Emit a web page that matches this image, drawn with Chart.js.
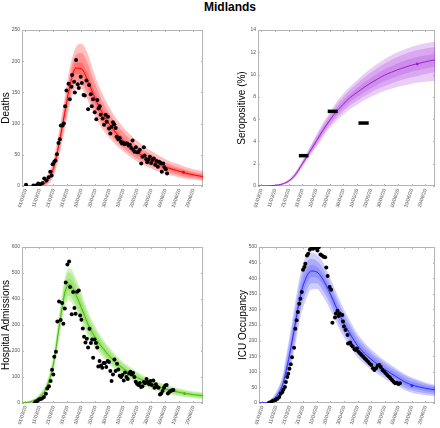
<!DOCTYPE html>
<html lang="en">
<head>
    <meta charset="UTF-8">
    <title>Midlands</title>
    <script src="https://cdn.jsdelivr.net/npm/chart.js"></script>
    <style>
        body { margin: 0; background: #fff; overflow: hidden; font-family: "Liberation Sans", Arial, sans-serif; }
        #title { position: absolute; left: 130px; width: 200px; top: 0px; text-align: center; font-weight: bold; font-size: 12px; line-height: 14px; }
        canvas { position: absolute; }
    </style>
</head>
<body>
    <div id="title">Midlands</div>
    <canvas id="deathsChart"></canvas>
    <canvas id="seroChart"></canvas>
    <canvas id="hospChart"></canvas>
    <canvas id="icuChart"></canvas>

    <script>
        // x axis: days since 01/03/20
        const tickDays = [0, 10, 20, 30, 40, 50, 60, 70, 80, 90, 100, 110, 120];
        const tickLabels = ["01/03/20", "11/03/20", "21/03/20", "31/03/20", "10/04/20", "20/04/20", "30/04/20",
                            "10/05/20", "20/05/20", "30/05/20", "09/06/20", "19/06/20", "29/06/20"];

        // ---- Deaths ----
        const deathDays = [0.4,5.6,7.2,9.1,10.6,12.2,13.4,15,16.5,17.7,18.7,19.4,20.6,21.5,22.5,23.6,24.6,25.3,26.5,27.4,
            28.4,29.3,30.8,31.7,32.9,33.4,34.8,35.3,36.2,37.4,38.1,39.5,40.3,41.5,42.4,43.6,44.8,45.5,46.7,47.4,
            48.3,49.5,50.7,51.4,52.2,53.1,53.8,55.2,56.2,57.4,58.1,59,59.8,60.7,61.6,62.6,63.5,64.5,65.2,66.4,
            67.4,68.3,69,70,70.9,71.9,72.8,73.8,74.7,75.7,76.6,77.1,78,79,79.9,80.9,81.8,82.8,83.7,84.7,
            85.2,86.4,87.1,88,89,89.9,90.9,91.8,92.8,93.7,94.7,95.6,96.6,97.5,98.5,99.4,100.4,101.3];
        const deaths = [2,1,1,4,3,5,12,9,14,23,17,35,39,41,51,69,75,97,97,100,
            128,153,164,139,159,178,167,150,202,163,157,175,165,146,145,169,123,162,147,128,
            139,118,107,138,124,128,114,108,98,114,103,111,92,84,95,102,99,93,79,75,
            77,71,68,69,67,68,68,65,66,61,73,58,55,62,54,55,58,36,47,62,
            49,43,38,42,47,37,42,44,34,40,31,39,37,23,36,30,27,20];
        const deathModelDays = [0,4,8,12,16,20,24,28,32,36,40,44,48,52,56,60,66,72,78,84,90,96,102,108,114,120,127];
        const deathMean = [0,0.2,0.8,2.5,9,28,68,116,163,189,188,172,150,130,113,99,82,68,57,48,41,34,29,25,21,18,15];
        const deathHi95 = [0.5,1,3,7,18,42,88,142,193,222,228,215,188,163,143,126,105,89,76,65,56,48,41,36,31,27,24];
        const deathHi80 = [0.3,0.7,2,5,14,36,79,131,181,210,213,199,174,151,131,116,96,81,68,58,50,42,36,31,27,23,20];
        const deathHi50 = [0.2,0.4,1.3,3.5,11,32,73,123,171,198,198,183,160,139,121,106,88,73,62,52,45,38,32,28,24,20,17];
        const deathLo50 = [0,0.1,0.5,1.8,7,24,62,108,154,179,178,161,140,121,105,92,76,63,52,44,37,30,26,22,18,16,13];
        const deathLo80 = [0,0,0.3,1,5,20,55,99,143,167,165,149,129,111,96,84,69,57,47,39,32,26,22,18,15,13,10.5];
        const deathLo95 = [0,0,0.1,0.5,3,15,47,89,132,156,156,140,120,102,88,77,63,52,42,34,28,22,18,15,12,10,8.5];
        const deathMark = [113, 22];

        // ---- Seropositive ----
        const seroModelDays = [-3,0,5,10,15,20,25,30,35,40,45,50,55,60,65,70,75,80,85,90,95,100,105,110,115,120,127];
        const seroMean = [0,0,0.01,0.06,0.17,0.45,1.05,2.0,3.0,4.0,5.0,5.9,6.7,7.35,7.95,8.4,8.85,9.25,9.6,9.95,10.2,10.45,10.65,10.85,11.0,11.15,11.32];
        const seroHi95 = [0,0,0.02,0.1,0.25,0.6,1.3,2.3,3.4,4.55,5.65,6.6,7.55,8.3,8.95,9.5,10.05,10.55,10.98,11.38,11.72,12.02,12.28,12.5,12.68,12.82,12.95];
        const seroHi80 = [0,0,0.015,0.09,0.22,0.55,1.22,2.2,3.3,4.4,5.45,6.4,7.3,8.02,8.65,9.2,9.72,10.18,10.6,10.98,11.3,11.6,11.85,12.05,12.22,12.35,12.45];
        const seroHi50 = [0,0,0.012,0.07,0.18,0.5,1.15,2.1,3.15,4.2,5.22,6.15,7.0,7.7,8.3,8.8,9.28,9.72,10.1,10.45,10.75,11.02,11.25,11.45,11.6,11.72,11.85];
        const seroLo50 = [0,0,0.008,0.04,0.12,0.4,0.95,1.88,2.85,3.8,4.76,5.62,6.38,7.0,7.55,7.98,8.4,8.78,9.1,9.4,9.65,9.88,10.08,10.25,10.4,10.55,10.72];
        const seroLo80 = [0,0,0.005,0.03,0.1,0.35,0.88,1.8,2.72,3.62,4.58,5.42,6.12,6.72,7.25,7.65,8.05,8.4,8.7,8.98,9.2,9.42,9.6,9.75,9.9,10.05,10.22];
        const seroLo95 = [0,0,0.003,0.02,0.08,0.3,0.8,1.7,2.6,3.45,4.38,5.2,5.85,6.42,6.92,7.3,7.68,8.0,8.28,8.52,8.72,8.9,9.05,9.18,9.28,9.35,9.42];
        const seroMark = [114, 10.95];
        // serosurvey results: start day, end day, % positive
        const surveyStart = [27.4, 48.5, 71];
        const surveyEnd = [34.4, 55.8, 78.5];
        const surveyValue = [2.72, 6.7, 5.65];

        // ---- Hospital admissions ----
        const hospDays = [6.5,7.4,8.4,9.6,10.7,11.8,13.2,14.6,15.6,16.8,18,19,19.9,20.6,21.8,22.8,24,25.2,26.2,27.1,
            28.1,28.8,30,31.2,31.9,33.1,34.1,35,35.8,36.9,38.1,39.1,40,41,41.9,42.9,43.9,44.8,45.8,46.8,
            47.7,48.4,49.4,50.4,51.3,52.1,53,54,54.9,55.9,56.8,57.8,58.8,59.7,60.7,61.6,62.6,63.6,64.5,65.5,
            66.4,67.4,68.4,69.3,70.3,71.2,72.2,73.2,74.1,75.1,76,77,77.9,78.9,79.8,80.8,81.8,82.7,83.7,84.7,
            85.6,86.6,87.5,88.5,89.5,90.4,91.4,92.3,93.3,94.3,95.2,96.2,97.1,98.1,99.1,100,101,101.9,102.9,103.9,
            104.8,105.8];
        const hosp = [0,5,8,13,15,17,23,36,56,64,85,128,110,178,197,313,390,319,385,305,
            363,463,533,544,446,341,427,365,343,428,433,337,320,287,255,233,247,213,286,231,
            244,174,244,231,213,140,162,144,136,154,154,138,162,158,123,85,110,167,123,151,
            129,105,100,108,87,117,100,92,113,120,110,115,100,82,74,69,77,62,64,81,
            76,92,81,72,85,69,87,59,72,62,59,33,37,46,59,67,69,37,42,46,
            49,50];
        const hospModelDays = [-3,0,5,10,15,20,24,28,31,34,37,40,45,50,55,60,65,70,75,80,85,90,95,100,105,110,115,120,127];
        const hospMean = [0,1,8,23,59,150,290,420,457,440,405,367,300,251,213,181,154,132,114,98,85,73,63,54,47,41,36,32,28];
        const hospHi95 = [0.5,3,14,35,80,185,340,480,520,505,468,425,350,294,250,214,183,158,138,120,105,92,81,71,63,56,50,45,41];
        const hospHi80 = [0.3,2,12,31,73,174,325,462,503,487,450,408,336,282,240,205,175,150,131,113,99,86,76,66,58,52,46,41,37];
        const hospHi50 = [0.2,1.5,10,27,66,162,307,440,480,464,428,388,318,266,226,193,164,141,122,105,92,80,69,60,53,47,41,37,33];
        const hospLo50 = [0,0.6,6,19,52,138,273,400,434,416,382,346,282,236,200,169,143,122,105,90,78,67,57,48,42,36,31,27,23];
        const hospLo80 = [0,0.4,5,16,46,127,258,380,413,395,362,328,267,223,188,158,133,113,97,82,70,60,50,42,36,31,26,22,19];
        const hospLo95 = [0,0.2,4,13,40,116,242,362,395,376,344,311,253,211,177,148,124,105,89,75,63,53,44,37,31,26,22,18,15];
        const hospMark = [113.9, 36];

        // ---- ICU occupancy ----
        const icuDays = [4.9,6.5,7.7,9.1,10,11.2,12.4,13.5,14.7,15.4,16.6,17.3,18.3,19,19.9,20.9,21.8,23.3,24.2,25.2,
            26.1,27.1,28,29,29.9,30.9,31.6,32.8,33.7,34.9,36.1,37.3,38.4,39.6,40.5,41.5,42.7,43.8,45,46.2,
            47,48,49.5,50.6,51.5,53.4,54.1,55.3,56,57,58.8,59.3,60,61.2,62.6,63,64.5,65.4,66.4,67.8,
            68.7,69.5,70.7,71.9,73,74.2,75.4,76.5,77.7,78.9,80.1,81.3,82.4,83.6,84.8,86,87.1,88.3,89.5,90.7,
            91.8,93,94.2,95.4,96.5,97.7,98.9,100.1,101.2];
        const icu = [1,4,7,9,11,14,19,30,35,43,51,67,83,94,110,124,147,177,238,265,
            292,318,334,356,427,436,446,473,478,491,497,494,499,497,489,499,476,473,469,467,
            434,407,372,363,257,274,287,296,279,287,282,261,245,234,218,191,194,186,181,172,
            170,175,164,159,154,148,143,138,132,127,122,111,106,111,119,122,115,106,101,95,
            90,85,79,74,68,63,65,61,63];
        const icuModelDays = [-3,0,5,10,15,17,20,24,28,32,36,40,44,48,52,56,60,65,70,75,80,85,90,95,100,105,110,115,120,127];
        const icuMean = [0,0.5,3,20,60,95,155,250,345,400,423,420,400,368,330,290,255,218,184,160,140,123,108,94,80,67,58,52,47,42];
        const icuHi95 = [0.5,2,8,35,92,140,215,320,415,470,482,475,455,420,380,338,300,260,222,195,172,153,136,121,106,92,82,74,66,58];
        const icuHi80 = [0.3,1.5,6,30,82,126,197,300,393,448,462,455,436,402,364,323,286,247,211,185,163,145,129,114,100,87,77,69,62,55];
        const icuHi50 = [0.2,1,4.5,25,70,110,175,275,368,423,442,437,418,385,348,308,272,234,199,174,153,136,120,105,91,78,68,62,56,50];
        const icuLo50 = [0,0.3,2,15,50,80,135,225,322,378,404,402,382,351,312,272,238,202,169,146,127,110,96,83,70,57,48,43,38,34];
        const icuLo80 = [0,0.1,1,11,40,67,116,202,298,353,384,384,364,334,296,257,224,189,157,135,117,101,87,74,61,48,40,35,31,27];
        const icuLo95 = [0,0,0.5,8,32,55,98,180,275,330,364,365,345,316,280,242,210,176,146,125,107,92,78,66,53,41,33,28,25,22];
        const icuMark = [110, 55];

        // box round the plot plus small inward tick marks on all four sides
        const framePlugin = {
            id: 'frame',
            beforeDatasetsDraw(chart) {
                const { ctx, chartArea: a, scales: { x, y } } = chart;
                ctx.save();
                ctx.strokeStyle = '#b4b4b4';
                ctx.lineWidth = 1;
                ctx.strokeRect(a.left + 0.5, a.top + 0.5, a.width - 1, a.height - 1);
                ctx.beginPath();
                x.ticks.forEach(t => {
                    const px = Math.round(x.getPixelForValue(t.value)) + 0.5;
                    ctx.moveTo(px, a.bottom); ctx.lineTo(px, a.bottom - 2);
                    ctx.moveTo(px, a.top); ctx.lineTo(px, a.top + 2);
                });
                y.ticks.forEach(t => {
                    const py = Math.round(y.getPixelForValue(t.value)) + 0.5;
                    ctx.moveTo(a.left, py); ctx.lineTo(a.left + 2, py);
                    ctx.moveTo(a.right, py); ctx.lineTo(a.right - 2, py);
                });
                ctx.stroke();
                ctx.restore();
            }
        };

        const xy = (days, vals) => days.map((d, i) => ({ x: d, y: vals[i] }));

        function makePanel(id, p) {
            const cv = document.getElementById(id);
            cv.width = 22 + p.plotW + p.padRight;
            cv.height = 10 + 156 + 30;
            cv.style.left = (p.left - 22) + 'px';
            cv.style.top = (p.top - 10) + 'px';

            const band = (vals, fill) => ({
                data: xy(p.modelDays, vals), showLine: true, pointRadius: 0, borderWidth: 0,
                cubicInterpolationMode: 'monotone', fill: fill, backgroundColor: p.fill
            });

            const datasets = [
                { data: xy(p.obsDays || [], p.obs || []), pointRadius: 2, pointBackgroundColor: '#000', pointBorderWidth: 0 },
                { data: [{ x: p.mark[0], y: p.mark[1] }], pointRadius: 1.4, pointBackgroundColor: p.line, pointBorderWidth: 0 },
                { data: xy(p.modelDays, p.mean), showLine: true, pointRadius: 0, borderWidth: 1,
                  borderColor: p.line, cubicInterpolationMode: 'monotone' },
                band(p.hi95, '+1'), band(p.lo95, false),
                band(p.hi80, '+1'), band(p.lo80, false),
                band(p.hi50, '+1'), band(p.lo50, false)
            ];
            (p.bars || []).forEach(b => datasets.splice(1, 0, {
                data: [{ x: b[0], y: b[2] }, { x: b[1], y: b[2] }], showLine: true, pointRadius: 0,
                borderWidth: 3.5, borderColor: '#000', borderCapStyle: 'butt'
            }));

            return new Chart(cv.getContext('2d'), {
                type: 'scatter',
                data: { datasets },
                options: {
                    responsive: false,
                    animation: false,
                    layout: { padding: { top: 10, right: p.padRight, left: 0, bottom: 0 } },
                    plugins: { legend: { display: false }, tooltip: { enabled: false } },
                    scales: {
                        x: {
                            type: 'linear', min: -2.5, max: 127,
                            afterBuildTicks: s => { s.ticks = tickDays.map(v => ({ value: v })); },
                            afterFit: s => { s.height = 30; s.paddingLeft = 0; s.paddingRight = 0; },
                            ticks: {
                                callback: (v, i) => tickLabels[i], autoSkip: false,
                                minRotation: 72, maxRotation: 72, padding: 2,
                                font: { size: 5, family: 'Liberation Sans' }, color: '#555'
                            },
                            grid: { display: false, drawTicks: false },
                            border: { display: false }
                        },
                        y: {
                            min: 0, max: p.yMax,
                            afterFit: s => { s.width = 22; },
                            ticks: { stepSize: p.yStep, padding: 2, font: { size: 5, family: 'Liberation Sans' }, color: '#555' },
                            grid: { display: false, drawTicks: false },
                            border: { display: false },
                            title: { display: true, text: p.title, padding: 0, color: '#000',
                                     font: { size: 10, family: 'Liberation Sans' } }
                        }
                    }
                },
                plugins: [framePlugin]
            });
        }

        makePanel('deathsChart', {
            left: 22, top: 30, plotW: 181, padRight: 12, yMax: 250, yStep: 50, title: 'Deaths',
            obsDays: deathDays, obs: deaths, modelDays: deathModelDays, mean: deathMean,
            hi95: deathHi95, hi80: deathHi80, hi50: deathHi50, lo50: deathLo50, lo80: deathLo80, lo95: deathLo95,
            mark: deathMark, line: 'rgb(255,0,0)', fill: 'rgba(255,30,30,0.28)'
        });
        makePanel('seroChart', {
            left: 258, top: 30, plotW: 179, padRight: 2, yMax: 14, yStep: 2, title: 'Seropositive (%)',
            modelDays: seroModelDays, mean: seroMean,
            hi95: seroHi95, hi80: seroHi80, hi50: seroHi50, lo50: seroLo50, lo80: seroLo80, lo95: seroLo95,
            mark: seroMark, line: 'rgb(160,30,210)', fill: 'rgba(170,60,220,0.26)',
            bars: surveyStart.map((s, i) => [s, surveyEnd[i], surveyValue[i]])
        });
        makePanel('hospChart', {
            left: 22, top: 247, plotW: 181, padRight: 12, yMax: 600, yStep: 100, title: 'Hospital Admissions',
            obsDays: hospDays, obs: hosp, modelDays: hospModelDays, mean: hospMean,
            hi95: hospHi95, hi80: hospHi80, hi50: hospHi50, lo50: hospLo50, lo80: hospLo80, lo95: hospLo95,
            mark: hospMark, line: 'rgb(60,195,0)', fill: 'rgba(100,210,30,0.28)'
        });
        makePanel('icuChart', {
            left: 259, top: 247, plotW: 177, padRight: 3, yMax: 500, yStep: 50, title: 'ICU Occupancy',
            obsDays: icuDays, obs: icu, modelDays: icuModelDays, mean: icuMean,
            hi95: icuHi95, hi80: icuHi80, hi50: icuHi50, lo50: icuLo50, lo80: icuLo80, lo95: icuLo95,
            mark: icuMark, line: 'rgb(40,40,255)', fill: 'rgba(70,70,255,0.26)'
        });
    </script>
</body>
</html>
